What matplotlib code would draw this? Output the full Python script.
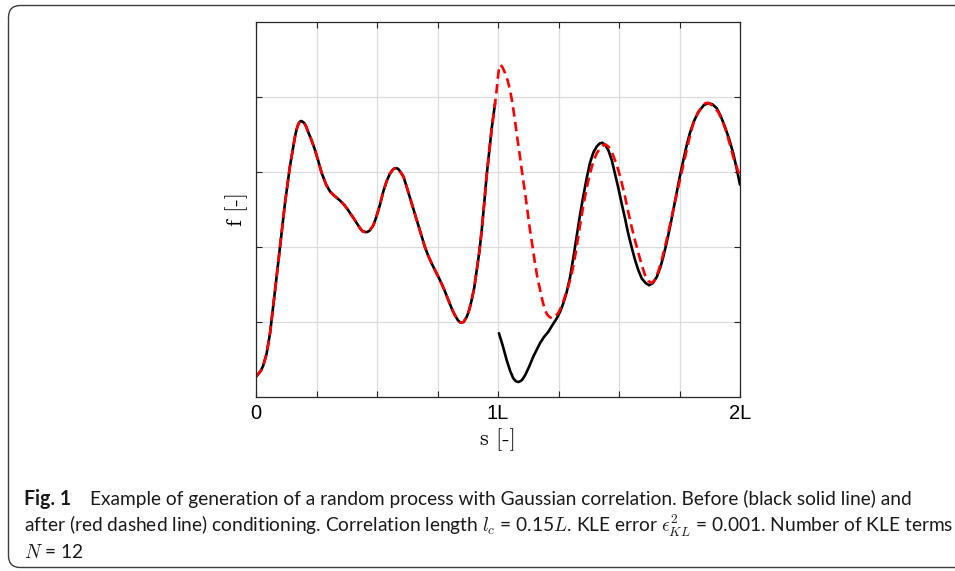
import numpy as np
import matplotlib
matplotlib.use("Agg")
import matplotlib.pyplot as plt
from matplotlib.patches import FancyBboxPatch
from matplotlib.transforms import IdentityTransform

# ---------------- data (s in units of L, f in arbitrary units) ----------------
# common part (before and after conditioning coincide on [0, 1L))
s_common = [0.000, 0.010, 0.020, 0.030, 0.044, 0.058, 0.079, 0.099, 0.120, 0.140,
            0.152, 0.161, 0.168, 0.175, 0.181, 0.186, 0.193, 0.200, 0.208, 0.216,
            0.230, 0.244, 0.258, 0.271, 0.290, 0.306, 0.325, 0.347, 0.365, 0.381,
            0.400, 0.416, 0.430, 0.440, 0.450, 0.460, 0.470, 0.485, 0.497, 0.512,
            0.526, 0.540, 0.554, 0.565, 0.573, 0.581, 0.588, 0.595, 0.609, 0.620,
            0.636, 0.650, 0.664, 0.680, 0.698, 0.712, 0.726, 0.743, 0.760, 0.778,
            0.795, 0.810, 0.822, 0.835, 0.846, 0.858, 0.871, 0.881, 0.891, 0.902,
            0.912, 0.923, 0.933, 0.943, 0.953, 0.964, 0.974, 0.988]
f_common = [0.27, 0.31, 0.35, 0.42, 0.58, 0.85, 1.43, 2.00, 2.59, 3.07,
            3.30, 3.47, 3.57, 3.64, 3.67, 3.68, 3.67, 3.65, 3.60, 3.53,
            3.42, 3.29, 3.14, 2.99, 2.83, 2.74, 2.68, 2.62, 2.56, 2.49,
            2.40, 2.32, 2.25, 2.21, 2.20, 2.20, 2.22, 2.29, 2.40, 2.56,
            2.74, 2.88, 2.98, 3.03, 3.05, 3.05, 3.04, 3.01, 2.94, 2.83,
            2.66, 2.51, 2.36, 2.19, 2.00, 1.88, 1.78, 1.67, 1.56, 1.43,
            1.29, 1.17, 1.09, 1.02, 0.99, 1.00, 1.07, 1.16, 1.29, 1.46,
            1.69, 1.94, 2.23, 2.58, 2.95, 3.28, 3.58, 3.92]

# before conditioning (black solid), second piece
s_before = [1.004, 1.020, 1.036, 1.050, 1.063, 1.074, 1.084, 1.092, 1.100, 1.112,
            1.128, 1.146, 1.160, 1.174, 1.190, 1.208, 1.225, 1.243, 1.257, 1.270,
            1.284, 1.298, 1.311, 1.325, 1.338, 1.352, 1.366, 1.380, 1.394, 1.408,
            1.420, 1.431, 1.443, 1.456, 1.470, 1.483, 1.497, 1.511, 1.525, 1.538,
            1.552, 1.566, 1.580, 1.594, 1.610, 1.624, 1.640, 1.656, 1.670, 1.683,
            1.697, 1.711, 1.725, 1.738, 1.752, 1.766, 1.780, 1.793, 1.810, 1.828,
            1.850, 1.869, 1.887, 1.904, 1.921, 1.938, 1.955, 1.972, 1.986, 2.000]
f_before = [0.85, 0.68, 0.49, 0.35, 0.25, 0.21, 0.20, 0.21, 0.23, 0.29,
            0.40, 0.54, 0.63, 0.72, 0.80, 0.87, 0.96, 1.05, 1.14, 1.25,
            1.40, 1.60, 1.85, 2.14, 2.41, 2.67, 2.91, 3.12, 3.26, 3.34,
            3.38, 3.39, 3.36, 3.29, 3.16, 2.98, 2.79, 2.58, 2.38, 2.18,
            2.00, 1.83, 1.69, 1.58, 1.52, 1.49, 1.52, 1.60, 1.72, 1.87,
            2.06, 2.27, 2.50, 2.72, 2.95, 3.16, 3.36, 3.52, 3.68, 3.80,
            3.89, 3.92, 3.90, 3.85, 3.74, 3.60, 3.44, 3.25, 3.05, 2.83]

# after conditioning (red dashed), continuation beyond the common part
s_after = [0.994, 1.000, 1.004, 1.010, 1.018, 1.029, 1.040, 1.050, 1.060, 1.070,
           1.080, 1.091, 1.101, 1.112, 1.122, 1.132, 1.143, 1.153, 1.163, 1.174,
           1.184, 1.194, 1.203, 1.212, 1.222, 1.235, 1.249, 1.263, 1.277, 1.291,
           1.305, 1.315, 1.325, 1.338, 1.352, 1.366, 1.380, 1.394, 1.408, 1.425,
           1.442, 1.456, 1.470, 1.483, 1.497, 1.511, 1.525, 1.538, 1.552, 1.566,
           1.580, 1.594, 1.607, 1.621, 1.635, 1.648, 1.662, 1.676, 1.690, 1.704,
           1.718, 1.731, 1.745, 1.759, 1.773, 1.790, 1.807, 1.828, 1.848, 1.858,
           1.869, 1.889, 1.910, 1.928, 1.945, 1.958, 1.972, 1.986, 2.000]
f_after = [4.08, 4.27, 4.38, 4.43, 4.40, 4.32, 4.22, 4.09, 3.91, 3.69,
           3.45, 3.20, 2.96, 2.72, 2.47, 2.23, 2.00, 1.78, 1.59, 1.43,
           1.28, 1.16, 1.10, 1.07, 1.05, 1.07, 1.12, 1.21, 1.34, 1.48,
           1.65, 1.81, 2.00, 2.27, 2.54, 2.78, 2.98, 3.14, 3.25, 3.33,
           3.37, 3.34, 3.27, 3.16, 3.03, 2.86, 2.67, 2.47, 2.27, 2.09,
           1.92, 1.76, 1.63, 1.55, 1.52, 1.56, 1.67, 1.82, 2.00, 2.20,
           2.40, 2.60, 2.80, 3.00, 3.20, 3.44, 3.65, 3.80, 3.89, 3.92,
           3.92, 3.88, 3.80, 3.68, 3.52, 3.37, 3.20, 3.07, 2.94]

x_ticks = [0, 0.25, 0.5, 0.75, 1.0, 1.25, 1.5, 1.75, 2.0]
x_ticklabels = ["0", "", "", "", "1L", "", "", "", "2L"]
y_ticks = [1, 2, 3, 4]

caption_bold = "Fig. 1"
caption_l1 = "Example of generation of a random process with Gaussian correlation. Before (black solid line) and"
caption_l2 = (r"after (red dashed line) conditioning. Correlation length $l_c$ = 0.15$L$. "
              r"KLE error $\epsilon^2_{KL}$ = 0.001. Number of KLE terms")
caption_l3 = r"$N$ = 12"

# ---------------- figure ----------------
W, H = 955, 571
plt.rcParams["mathtext.fontset"] = "cm"
fig = plt.figure(figsize=(W / 100, H / 100), dpi=100)
fig.patch.set_facecolor("white")

ax = fig.add_axes([256 / W, 1 - 397 / H, (740 - 256) / W, (397 - 22) / H])

s_black = s_common + [np.nan] + s_before
f_black = f_common + [np.nan] + f_before
s_red = s_common + s_after
f_red = f_common + f_after

ax.plot(s_black, f_black, color="black", lw=1.9,
        solid_capstyle="round", solid_joinstyle="round")
ax.plot(s_red, f_red, color="#ff0000", lw=1.9, ls=(0, (3.6, 2.0)),
        dash_joinstyle="round")

ax.set_xlim(0, 2)
ax.set_ylim(0, 5)
ax.set_xticks(x_ticks)
ax.set_xticklabels(x_ticklabels, fontfamily="Liberation Sans", fontsize=14.5)
ax.set_yticks(y_ticks)
ax.set_yticklabels([])
ax.tick_params(direction="in", length=4, width=0.8, colors="#262626",
               top=True, right=True, pad=5)
ax.tick_params(axis="x", labelcolor="black")
ax.grid(True, color="#dcdcdc", lw=0.9)
ax.set_axisbelow(True)
for sp in ax.spines.values():
    sp.set_color("#262626")
    sp.set_linewidth(0.9)

ax.set_xlabel("s [-]", fontfamily="cmr10", fontsize=16, labelpad=4)
ax.set_ylabel("f [-]", fontfamily="cmr10", fontsize=16, labelpad=1)

# ---------------- outer rounded frame ----------------
frame = FancyBboxPatch((8.5, 3.5), 975, 562,
                       boxstyle="round,pad=0,rounding_size=12",
                       transform=IdentityTransform(), fill=False,
                       edgecolor="#3c3c3c", lw=1.0)
fig.add_artist(frame)

# ---------------- caption ----------------
cap_font = "Lato"
tr = IdentityTransform()
renderer = fig.canvas.get_renderer()
size0 = 12
t2 = fig.text(24, H - 532, caption_l2, transform=tr, fontfamily=cap_font,
              fontsize=size0, va="baseline", color="#1a1a1a")
w2 = t2.get_window_extent(renderer).width
size = size0 * 928 / w2
t2.set_fontsize(size)

tb = fig.text(24, H - 505, caption_bold, transform=tr, fontfamily=cap_font,
              fontweight="bold", fontsize=size * 1.02, va="baseline", color="#1a1a1a")
wb = tb.get_window_extent(renderer).x1
fig.text(wb + 19, H - 505, caption_l1, transform=tr, fontfamily=cap_font,
         fontsize=size, va="baseline", color="#1a1a1a")
fig.text(24, H - 558, caption_l3, transform=tr, fontfamily=cap_font,
         fontsize=size, va="baseline", color="#1a1a1a")

fig.savefig("out.png", dpi=100)
